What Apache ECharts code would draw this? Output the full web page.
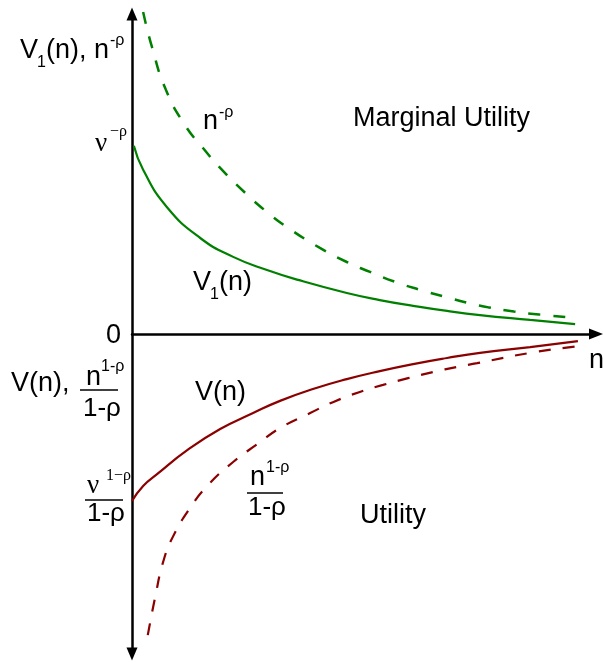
<!DOCTYPE html>
<html>
<head>
<meta charset="utf-8">
<title>Utility and marginal utility</title>
<script src="https://cdn.jsdelivr.net/npm/echarts@6/dist/echarts.min.js"></script>
<style>
  html, body { margin: 0; padding: 0; background: #fff; }
  #main { width: 603px; height: 663px; }
</style>
</head>
<body>
<div id="main"></div>
<script>
// curves (x = n, y = value, arbitrary units)
const powX = [0.24, 0.43, 0.73, 1.14, 1.53, 1.90, 2.44, 2.91, 3.34, 4.05, 4.63, 5.13, 5.67, 6.21, 6.75, 7.24, 7.69, 8.23, 8.77, 9.42]
const powY = [10.06, 8.97, 7.63, 6.53, 5.81, 5.19, 4.41, 3.81, 3.34, 2.69, 2.25, 1.94, 1.63, 1.38, 1.16, 0.97, 0.83, 0.70, 0.61, 0.52]

const v1X = [0.04, 0.24, 0.75, 1.47, 2.18, 2.91, 3.58, 4.63, 5.34, 6.06, 6.79, 7.50, 8.58, 9.55]
const v1Y = [5.88, 5.13, 3.97, 3.00, 2.41, 2.00, 1.69, 1.28, 1.06, 0.88, 0.72, 0.59, 0.44, 0.31]

const vX = [0, 0.24, 0.54, 1.19, 1.90, 2.61, 3.19, 3.90, 4.63, 5.34, 6.06, 6.79, 7.50, 8.58, 9.61]
const vY = [-5.22, -4.75, -4.38, -3.63, -2.97, -2.47, -2.09, -1.72, -1.41, -1.16, -0.94, -0.75, -0.59, -0.41, -0.22]

const powUX = [0.34, 0.50, 0.67, 0.88, 1.25, 1.62, 2.18, 2.76, 3.19, 3.84, 4.33, 4.91, 5.41, 5.95, 6.49, 7.00, 7.44, 8.58, 9.61]
const powUY = [-9.41, -8.22, -7.13, -6.34, -5.44, -4.75, -4.00, -3.38, -2.94, -2.47, -2.13, -1.81, -1.59, -1.38, -1.19, -1.03, -0.91, -0.59, -0.38]

const GREEN = '#008000'
const RED = '#8b0000'
const SANS = '"Liberation Sans", Arial, sans-serif'
const SERIF = '"Liberation Serif", "Times New Roman", serif'

function zip (xs, ys) {
  return xs.map((x, i) => [x, ys[i]])
}

// text placed by its left edge and alphabetic baseline
function txt (str, x, baseline, size, family) {
  return {
    type: 'text',
    x: x,
    y: baseline - 0.35 * size,
    silent: true,
    style: {
      text: str,
      font: size + 'px ' + (family || SANS),
      fill: '#000',
      align: 'left',
      verticalAlign: 'middle'
    }
  }
}

function bar (x1, x2, y) {
  return {
    type: 'line',
    silent: true,
    shape: { x1: x1, y1: y, x2: x2, y2: y },
    style: { stroke: '#000', lineWidth: 1.5 }
  }
}

const labels = [
  // y axis title, top
  txt('V', 20, 60, 27), txt('1', 37, 68, 16), txt('(n), n', 46, 60, 27), txt('-ρ', 110, 46, 16),
  // tick nu^-rho
  txt('ν', 95, 153, 27, SERIF), txt('−ρ', 110, 137, 16, SERIF),
  // zero
  txt('0', 106, 345, 27),
  // lower axis title
  txt('V(n),', 11, 393, 27),
  txt('n', 86, 387, 27), txt('1-ρ', 101, 372, 16),
  bar(80, 118, 390),
  txt('1-ρ', 83, 418, 26),
  // tick nu^(1-rho)/(1-rho)
  txt('ν', 87, 495, 27, SERIF), txt('1−ρ', 106, 481, 16, SERIF),
  bar(85, 123, 500),
  txt('1-ρ', 87, 523, 26),
  // curve labels
  txt('n', 203, 131, 27), txt('-ρ', 219, 118, 16),
  txt('V', 193, 292, 27), txt('1', 210, 300, 16), txt('(n)', 219, 292, 27),
  txt('V(n)', 195, 402, 27),
  txt('n', 250, 487, 27), txt('1-ρ', 266, 473, 16),
  bar(247, 283, 493),
  txt('1-ρ', 248, 517, 26),
  txt('Marginal Utility', 353, 128, 27),
  txt('Utility', 360, 525, 27),
  txt('n', 589, 370, 27)
]

const chart = echarts.init(document.getElementById('main'))

chart.setOption({
  animation: false,
  backgroundColor: '#fff',
  grid: {
    left: 132,
    top: 14,
    width: 464,
    height: 640
  },
  xAxis: {
    type: 'value',
    min: 0,
    max: 10,
    axisLine: {
      show: true,
      onZero: true,
      symbol: ['none', 'triangle'],
      symbolSize: [11, 14],
      lineStyle: { color: '#000', width: 2.5 }
    },
    axisTick: { show: false },
    axisLabel: { show: false },
    splitLine: { show: false }
  },
  yAxis: {
    type: 'value',
    min: -10,
    max: 10,
    axisLine: {
      show: true,
      onZero: false,
      symbol: ['triangle', 'triangle'],
      symbolSize: [11, 13],
      lineStyle: { color: '#000', width: 2.5 }
    },
    axisTick: { show: false },
    axisLabel: { show: false },
    splitLine: { show: false }
  },
  series: [
    {
      name: 'n^-ρ',
      type: 'line',
      data: zip(powX, powY),
      smooth: 0.5,
      showSymbol: false,
      clip: false,
      lineStyle: { color: GREEN, width: 2.5, type: [12, 13] }
    },
    {
      name: 'V1(n)',
      type: 'line',
      data: zip(v1X, v1Y),
      smooth: 0.5,
      showSymbol: false,
      lineStyle: { color: GREEN, width: 2.2 }
    },
    {
      name: 'V(n)',
      type: 'line',
      data: zip(vX, vY),
      smooth: 0.5,
      showSymbol: false,
      lineStyle: { color: RED, width: 2.2 }
    },
    {
      name: 'n^(1-ρ)/(1-ρ)',
      type: 'line',
      data: zip(powUX, powUY),
      smooth: 0.5,
      showSymbol: false,
      lineStyle: { color: RED, width: 2.2, type: [12, 12] }
    }
  ],
  graphic: labels
})
</script>
</body>
</html>
